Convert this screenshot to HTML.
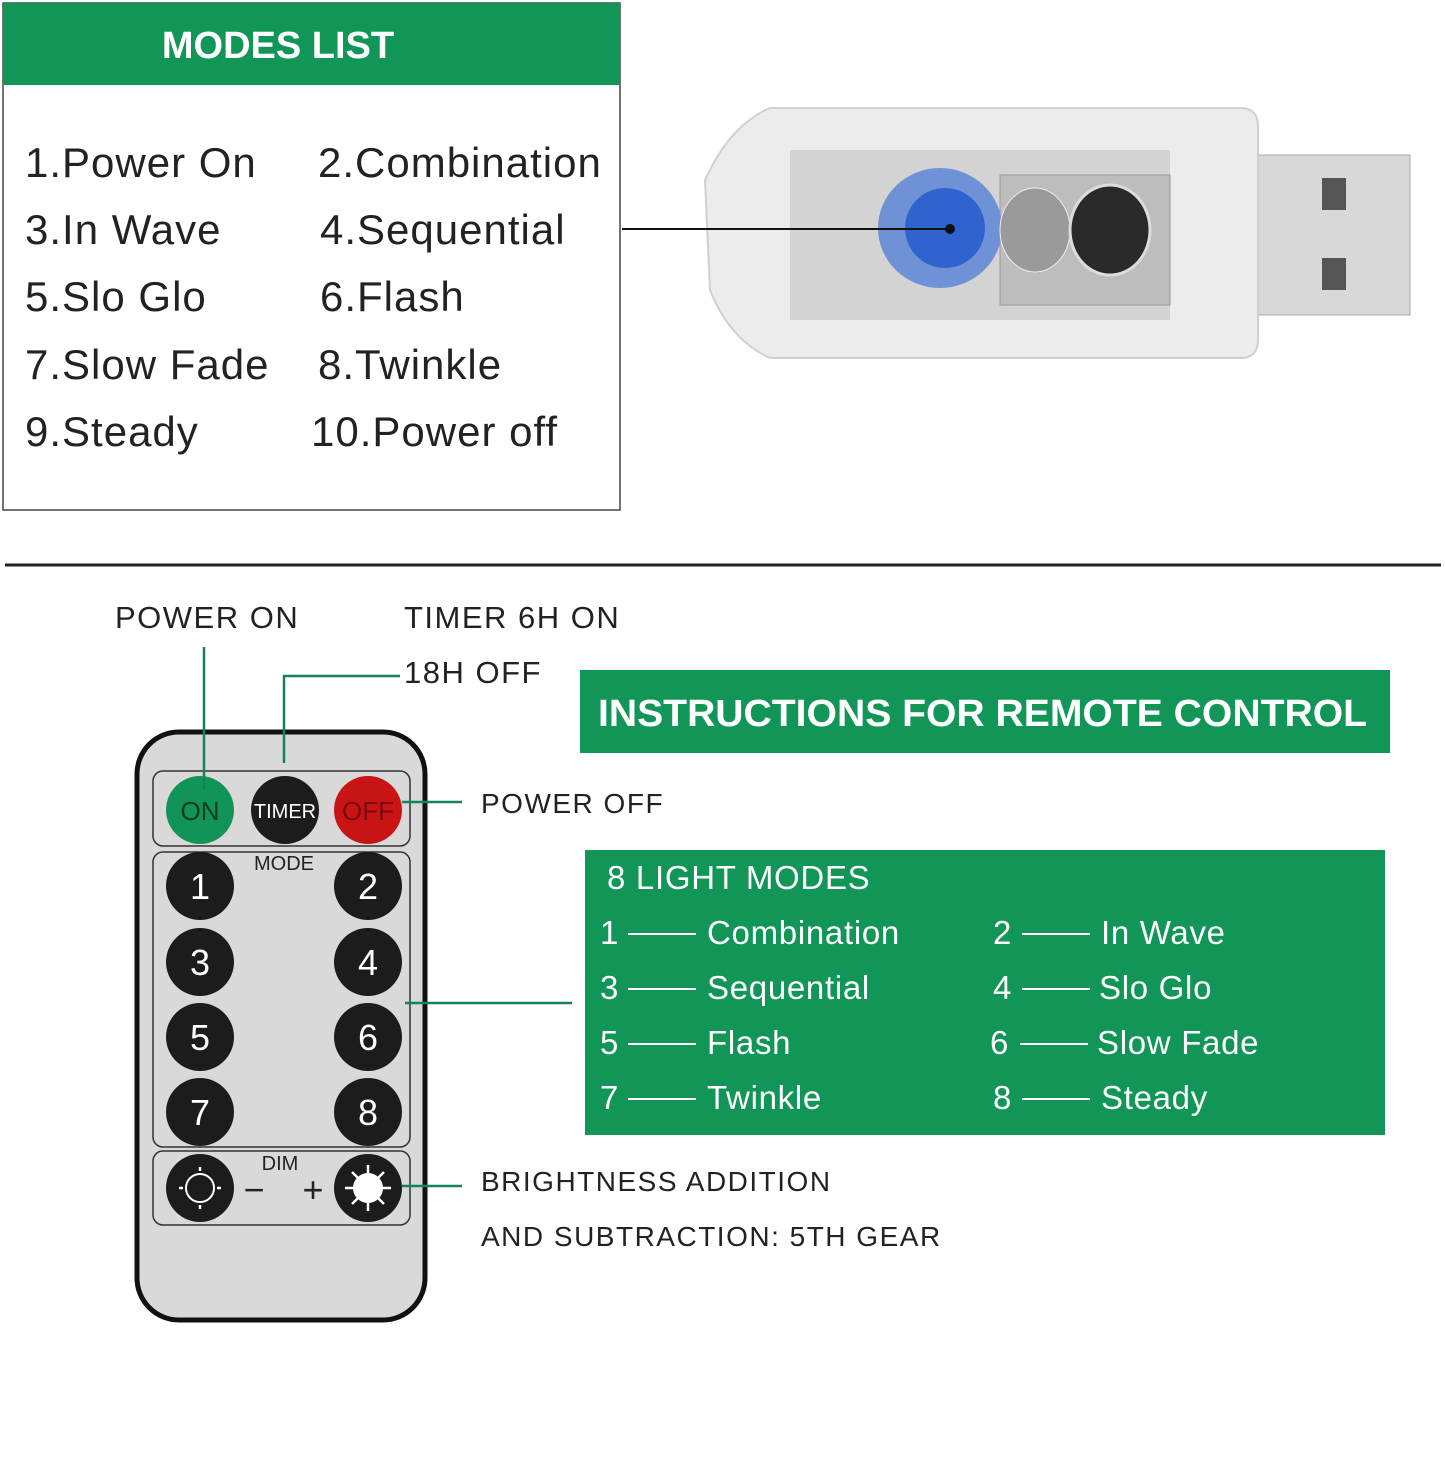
<!DOCTYPE html>
<html><head><meta charset="utf-8"><style>
html,body{margin:0;padding:0;background:#fff}
svg{display:block}
text{font-family:"Liberation Sans",Arial,sans-serif}
</style></head><body>
<svg width="1445" height="1458" viewBox="0 0 1445 1458" xmlns="http://www.w3.org/2000/svg">
<!-- Modes list -->
<rect x="3" y="3" width="617" height="507" fill="#fff" stroke="#444" stroke-width="1.5"/>
<rect x="3" y="3" width="617" height="82" fill="#119657"/>
<text x="278" y="58" font-size="38" font-weight="bold" fill="#fff" text-anchor="middle">MODES LIST</text>
<g font-size="42" fill="#222" letter-spacing="1">
<text x="25" y="177">1.Power On</text><text x="318" y="177">2.Combination</text>
<text x="25" y="244">3.In Wave</text><text x="320" y="244">4.Sequential</text>
<text x="25" y="311">5.Slo Glo</text><text x="320" y="311">6.Flash</text>
<text x="25" y="379">7.Slow Fade</text><text x="318" y="379">8.Twinkle</text>
<text x="25" y="446">9.Steady</text><text x="311" y="446">10.Power off</text>
</g>
<!-- USB device -->
<rect x="1250" y="155" width="160" height="160" fill="#d8d8d8" stroke="#aaa"/>
<rect x="1322" y="178" width="24" height="32" fill="#555"/>
<rect x="1322" y="258" width="24" height="32" fill="#555"/>
<path d="M770 108 L1240 108 Q1258 108 1258 126 L1258 340 Q1258 358 1240 358 L770 358 Q730 340 710 290 L705 180 Q730 125 770 108 Z" fill="#ececec" stroke="#d0d0d0" stroke-width="2"/>
<rect x="790" y="150" width="380" height="170" fill="#c9c9c9" opacity="0.7"/>
<rect x="1000" y="175" width="170" height="130" fill="#bdbdbd" stroke="#999"/>
<ellipse cx="940" cy="228" rx="62" ry="60" fill="#6f92d6"/>
<ellipse cx="945" cy="228" rx="40" ry="40" fill="#2f63cf"/>
<circle cx="950" cy="229" r="5" fill="#111"/>
<ellipse cx="1035" cy="230" rx="35" ry="42" fill="#9a9a9a" stroke="#eee"/>
<ellipse cx="1110" cy="230" rx="40" ry="45" fill="#2a2a2a" stroke="#ddd" stroke-width="3"/>
<line x1="622" y1="229" x2="950" y2="229" stroke="#111" stroke-width="2"/>
<!-- divider -->
<line x1="5" y1="565" x2="1441" y2="565" stroke="#222" stroke-width="3"/>
<!-- labels -->
<g font-size="31" fill="#222" letter-spacing="1.5">
<text x="115" y="628">POWER ON</text>
<text x="404" y="628">TIMER 6H ON</text>
<text x="404" y="683">18H OFF</text>
<text x="481" y="813" font-size="28">POWER OFF</text>
<text x="481" y="1191" font-size="28">BRIGHTNESS ADDITION</text>
<text x="481" y="1246" font-size="28">AND SUBTRACTION: 5TH GEAR</text>
</g>
<!-- instructions box -->
<rect x="580" y="670" width="810" height="83" fill="#119657"/>
<text x="598" y="726" font-size="38" font-weight="bold" fill="#fff" textLength="769" lengthAdjust="spacingAndGlyphs">INSTRUCTIONS FOR REMOTE CONTROL</text>
<rect x="585" y="850" width="800" height="285" fill="#119657"/>
<g font-size="33" fill="#fff" letter-spacing="0.7">
<text x="607" y="889">8 LIGHT MODES</text>
<text x="600" y="944">1</text><text x="707" y="944">Combination</text>
<text x="993" y="944">2</text><text x="1101" y="944">In Wave</text>
<text x="600" y="999">3</text><text x="707" y="999">Sequential</text>
<text x="993" y="999">4</text><text x="1099" y="999">Slo Glo</text>
<text x="600" y="1054">5</text><text x="707" y="1054">Flash</text>
<text x="990" y="1054">6</text><text x="1097" y="1054">Slow Fade</text>
<text x="600" y="1109">7</text><text x="707" y="1109">Twinkle</text>
<text x="993" y="1109">8</text><text x="1101" y="1109">Steady</text>
</g>
<g stroke="#fff" stroke-width="2">
<line x1="628" y1="934" x2="696" y2="934"/><line x1="1022" y1="934" x2="1090" y2="934"/>
<line x1="628" y1="989" x2="696" y2="989"/><line x1="1022" y1="989" x2="1090" y2="989"/>
<line x1="628" y1="1044" x2="696" y2="1044"/><line x1="1020" y1="1044" x2="1088" y2="1044"/>
<line x1="628" y1="1099" x2="696" y2="1099"/><line x1="1022" y1="1099" x2="1090" y2="1099"/>
</g>
<!-- remote -->
<rect x="137" y="732" width="288" height="588" rx="42" fill="#d9d9d9" stroke="#111" stroke-width="5"/>
<rect x="153" y="771" width="257" height="75" rx="10" fill="#d9d9d9" stroke="#333" stroke-width="1.5"/>
<rect x="153" y="852" width="257" height="295" rx="10" fill="#d9d9d9" stroke="#333" stroke-width="1.5"/>
<rect x="153" y="1151" width="257" height="74" rx="10" fill="#d9d9d9" stroke="#333" stroke-width="1.5"/>
<circle cx="200" cy="810" r="34" fill="#129458"/>
<circle cx="285" cy="810" r="34" fill="#1c1c1c"/>
<circle cx="368" cy="810" r="34" fill="#c81414"/>
<text x="200" y="820" font-size="26" fill="#0a3a20" text-anchor="middle">ON</text>
<text x="285" y="818" font-size="20" fill="#fff" text-anchor="middle">TIMER</text>
<text x="368" y="820" font-size="26" fill="#7a0a0a" text-anchor="middle">OFF</text>
<text x="284" y="870" font-size="20" fill="#222" text-anchor="middle">MODE</text>
<g fill="#1c1c1c">
<circle cx="200" cy="886" r="34"/><circle cx="368" cy="886" r="34"/>
<circle cx="200" cy="962" r="34"/><circle cx="368" cy="962" r="34"/>
<circle cx="200" cy="1037" r="34"/><circle cx="368" cy="1037" r="34"/>
<circle cx="200" cy="1112" r="34"/><circle cx="368" cy="1112" r="34"/>
<circle cx="200" cy="1188" r="34"/><circle cx="368" cy="1188" r="34"/>
</g>
<g font-size="36" fill="#fff" text-anchor="middle">
<text x="200" y="899">1</text><text x="368" y="899">2</text>
<text x="200" y="975">3</text><text x="368" y="975">4</text>
<text x="200" y="1050">5</text><text x="368" y="1050">6</text>
<text x="200" y="1125">7</text><text x="368" y="1125">8</text>
</g>
<circle cx="200" cy="1188" r="14" fill="none" stroke="#fff" stroke-width="2"/>
<circle cx="368" cy="1188" r="15" fill="#fff"/>
<g stroke="#fff" stroke-width="2.5">
<line x1="200" y1="1167" x2="200" y2="1171"/><line x1="200" y1="1205" x2="200" y2="1209"/>
<line x1="179" y1="1188" x2="183" y2="1188"/><line x1="217" y1="1188" x2="221" y2="1188"/>
<line x1="368" y1="1165" x2="368" y2="1211"/><line x1="345" y1="1188" x2="391" y2="1188"/>
<line x1="352" y1="1172" x2="384" y2="1204"/><line x1="384" y1="1172" x2="352" y2="1204"/>
</g>
<text x="280" y="1170" font-size="20" fill="#222" text-anchor="middle">DIM</text>
<text x="254" y="1202" font-size="36" fill="#222" text-anchor="middle">−</text>
<text x="313" y="1202" font-size="36" fill="#222" text-anchor="middle">+</text>
<!-- connectors -->
<g stroke="#14855a" stroke-width="2.5" fill="none">
<line x1="204" y1="647" x2="204" y2="790"/>
<polyline points="284,763 284,676 400,676"/>
<line x1="402" y1="802" x2="462" y2="802"/>
<line x1="405" y1="1003" x2="572" y2="1003"/>
<line x1="402" y1="1186" x2="462" y2="1186"/>
</g>
</svg>
</body></html>
